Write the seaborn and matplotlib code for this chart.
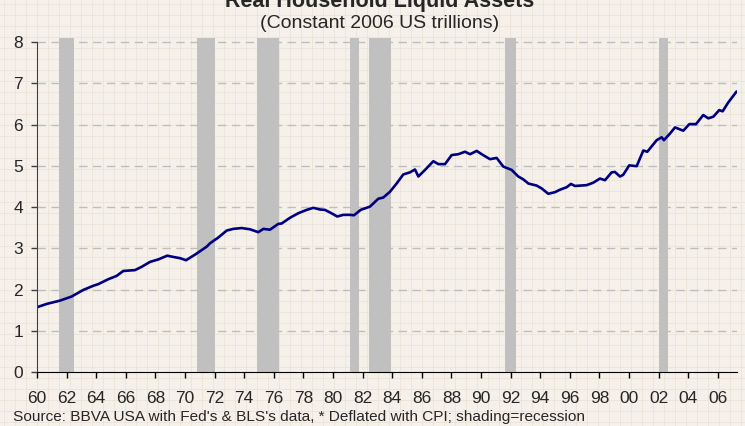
import numpy as np
import matplotlib.pyplot as plt
import seaborn as sns


# Parametreler
W, H, DPI = 745, 426, 100
LINE_COLOR = "#000080"
BAND_COLOR = "#C0C0C0"
BG_COLOR = "#F5F0E9"
TEXTURE_COLOR = "#ECE3D6"
FONT = ["Liberation Sans", "DejaVu Sans"]

# Veri (okunan noktalar: yil, trilyon $)
YEARS = [1960.0, 1960.65, 1961.55, 1962.34, 1963.13, 1963.8, 1964.14, 1964.82,
         1965.38, 1965.83, 1966.62, 1967.07, 1967.64, 1968.2, 1968.8, 1969.2,
         1969.66, 1970.07, 1970.74, 1971.47, 1971.69, 1972.25, 1972.82, 1973.27,
         1973.83, 1974.39, 1974.95, 1975.3, 1975.74, 1976.3, 1976.53, 1977.1,
         1977.66, 1978.22, 1978.67, 1979.12, 1979.46, 1979.84, 1980.29, 1980.7,
         1981.15, 1981.42, 1981.87, 1982.5, 1983.06, 1983.4, 1983.85, 1984.3,
         1984.75, 1985.2, 1985.54, 1985.77, 1986.22, 1986.78, 1987.12, 1987.57,
         1988.02, 1988.47, 1988.92, 1989.26, 1989.71, 1990.05, 1990.61, 1991.06,
         1991.51, 1992.07, 1992.52, 1992.86, 1993.2, 1993.76, 1994.1, 1994.55,
         1995.0, 1995.34, 1995.79, 1996.08, 1996.35, 1997.14, 1997.59, 1998.04,
         1998.38, 1998.83, 1999.05, 1999.39, 1999.61, 2000.02, 2000.52, 2000.97,
         2001.24, 2001.87, 2002.21, 2002.36, 2002.77, 2003.11, 2003.67, 2004.08,
         2004.53, 2005.02, 2005.36, 2005.7, 2006.1, 2006.33, 2006.7, 2007.27]
VALUES = [1.57, 1.65, 1.73, 1.83, 1.99, 2.09, 2.13, 2.25,
          2.33, 2.45, 2.47, 2.55, 2.67, 2.73, 2.82, 2.79,
          2.76, 2.71, 2.86, 3.04, 3.12, 3.26, 3.43, 3.47,
          3.49, 3.46, 3.39, 3.47, 3.45, 3.59, 3.60, 3.74,
          3.85, 3.93, 3.98, 3.94, 3.93, 3.86, 3.77, 3.81,
          3.81, 3.80, 3.93, 4.01, 4.20, 4.23, 4.37, 4.57,
          4.79, 4.84, 4.91, 4.74, 4.90, 5.11, 5.04, 5.04,
          5.26, 5.28, 5.34, 5.28, 5.36, 5.28, 5.16, 5.19,
          4.98, 4.90, 4.74, 4.67, 4.57, 4.52, 4.45, 4.32,
          4.36, 4.42, 4.48, 4.56, 4.51, 4.53, 4.59, 4.69,
          4.65, 4.84, 4.85, 4.74, 4.78, 5.01, 4.99, 5.37,
          5.34, 5.62, 5.69, 5.62, 5.78, 5.93, 5.85, 6.01,
          6.01, 6.23, 6.15, 6.19, 6.35, 6.32, 6.53, 6.80]

# Resesyon bantlari
REC_START = [1961.5, 1970.8, 1974.86, 1981.15, 1982.43, 1991.64, 2002.05]
REC_END = [1962.5, 1972.03, 1976.33, 1981.76, 1983.9, 1992.36, 2002.61]

XTICKS = list(range(1960, 2007, 2))
XTICK_LABELS = [f"{y % 100:02d}" for y in XTICKS]
YTICKS = list(range(0, 9))

TITLE = "Real Household Liquid Assets"
SUBTITLE = "(Constant 2006 US trillions)"
SOURCE = "Source: BBVA USA with Fed's & BLS's data, * Deflated with CPI; shading=recession"

# GRAFIK
sns.set_style("ticks")
plt.rcParams["font.family"] = FONT

fig = plt.figure(figsize=(W / DPI, H / DPI), dpi=DPI, facecolor=BG_COLOR)

# arka plan dokusu (ince kareli desen)
bg = fig.add_axes([0, 0, 1, 1], zorder=-5)
bg.set_xlim(0, W)
bg.set_ylim(0, H)
bg.axis("off")
for xx in np.arange(4, W, 11):
    bg.axvline(xx, color=TEXTURE_COLOR, lw=0.6)
for yy in np.arange(4, H, 11):
    bg.axhline(yy, color=TEXTURE_COLOR, lw=0.6)

ax = fig.add_axes([37 / W, 54 / H, 700 / W, 334.1 / H])
ax.set_facecolor("none")

for s, e in zip(REC_START, REC_END):
    ax.axvspan(s, e, color=BAND_COLOR, lw=0, zorder=1)

sns.lineplot(x=YEARS, y=VALUES, ax=ax, color=LINE_COLOR, linewidth=1.9, zorder=3)

ax.set_xlim(1960, 2007.3)
ax.set_ylim(0, 8.1)
ax.set_xticks(XTICKS)
ax.set_xticklabels(XTICK_LABELS)
ax.set_yticks(YTICKS)

ax.yaxis.grid(True, linestyle=(0, (6, 4)), color="#BDBDBD", linewidth=1)
ax.xaxis.grid(False)
ax.set_axisbelow(True)

for side in ["top", "right"]:
    ax.spines[side].set_visible(False)
ax.spines["left"].set_bounds(0, 8)
ax.spines["left"].set_color("#404040")
ax.spines["bottom"].set_color("black")
ax.spines["left"].set_zorder(4)
ax.spines["bottom"].set_zorder(4)

ax.tick_params(axis="x", direction="out", length=4, width=1, color="black",
               labelsize=12.5, pad=10)
ax.tick_params(axis="y", direction="out", length=4, width=1, color="#404040",
               labelsize=12.5, pad=6)
ax.set_xlabel("")
ax.set_ylabel("")

# Baslik ve kaynak
fig.text(380 / W, 1 - 6.5 / H, TITLE, ha="center", va="baseline",
         fontsize=15.5, fontweight="bold")
fig.text(380 / W, 1 - 28.3 / H, SUBTITLE, ha="center", va="baseline", fontsize=14)
fig.text(13 / W, 5 / H, SOURCE, ha="left", va="baseline", fontsize=11.1)

fig.savefig("out.png", dpi=DPI, facecolor=BG_COLOR)
